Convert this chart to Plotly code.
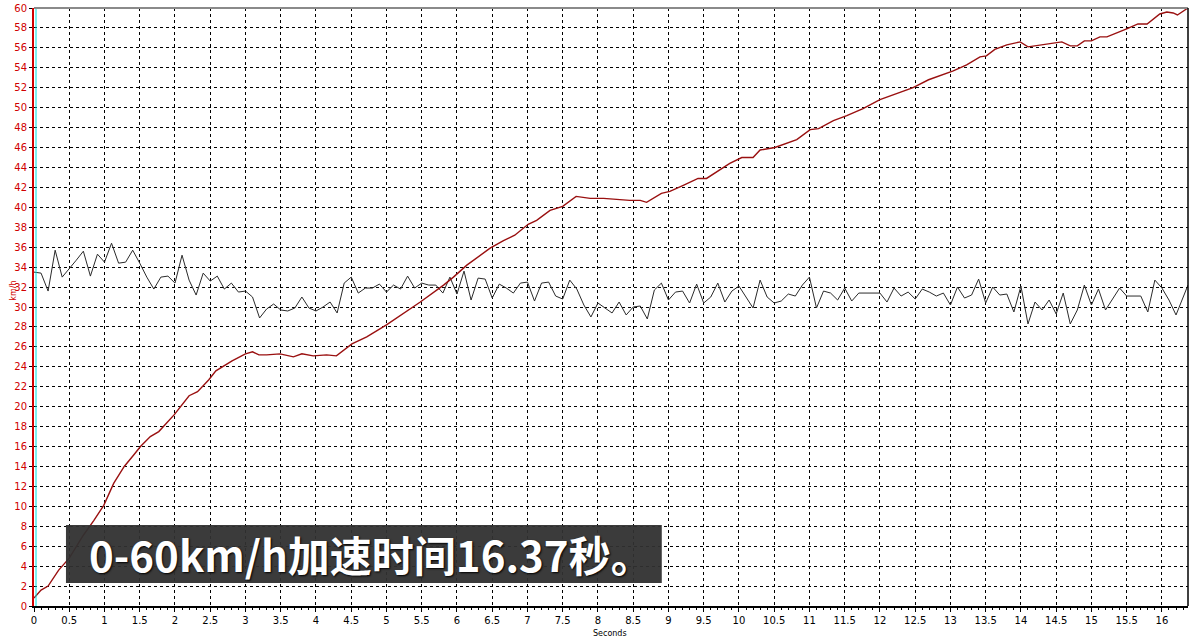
import plotly.graph_objects as go

# ---- data ----
speed_t = [0.0, 0.1, 0.2, 0.35, 0.5, 0.6, 0.7, 0.85, 0.99, 1.13, 1.28, 1.42, 1.51, 1.65, 1.77,
           1.99, 2.10, 2.20, 2.32, 2.48, 2.58, 2.81, 3.0, 3.10, 3.19, 3.30, 3.49, 3.68, 3.80,
           3.96, 4.15, 4.29, 4.51, 4.72, 5.00, 5.19, 5.48, 5.81, 5.95, 6.14, 6.33, 6.47, 6.66,
           6.82, 7.01, 7.13, 7.32, 7.50, 7.69, 7.89, 8.08, 8.27, 8.45, 8.60, 8.69, 8.90, 9.02,
           9.21, 9.42, 9.54, 9.71, 9.87, 10.04, 10.20, 10.30, 10.51, 10.82, 11.01, 11.13, 11.34,
           11.53, 11.76, 12.0, 12.24, 12.47, 12.69, 12.95, 13.04, 13.23, 13.42, 13.51, 13.63,
           13.80, 13.99, 14.1, 14.3, 14.48, 14.58, 14.7, 14.8, 14.9, 15.0, 15.12, 15.22, 15.5,
           15.66, 15.79, 15.97, 16.07, 16.16, 16.22, 16.37]
speed_kmh = [0.8, 1.6, 2.0, 3.6, 4.8, 6.0, 7.1, 8.6, 10.1, 12.3, 14.0, 15.2, 16.0, 17.0, 17.5,
             19.2, 20.2, 21.1, 21.5, 22.7, 23.6, 24.6, 25.3, 25.5, 25.2, 25.2, 25.3, 25.0, 25.3,
             25.1, 25.2, 25.1, 26.3, 27.0, 28.2, 29.1, 30.5, 32.2, 33.0, 34.2, 35.2, 35.9, 36.65,
             37.2, 38.3, 38.7, 39.7, 40.1, 41.1, 40.9, 40.9, 40.8, 40.7, 40.7, 40.5, 41.4, 41.6,
             42.2, 42.9, 42.9, 43.7, 44.4, 45.0, 45.0, 45.75, 46.0, 46.8, 47.8, 47.9, 48.7,
             49.2, 49.9, 50.8, 51.4, 52.0, 52.8, 53.5, 53.7, 54.3, 55.1, 55.2, 55.85,
             56.3, 56.6, 56.1, 56.3, 56.45, 56.6, 56.2, 56.2, 56.7, 56.7, 57.1, 57.1, 57.9,
             58.4, 58.4, 59.4, 59.6, 59.5, 59.3, 60.0]

second_t = [round(i * 0.1, 1) for i in range(164)] + [16.37]
second_val = [33.5, 33.4, 31.6, 35.7, 33.0, 33.8, 34.7, 35.6, 33.1, 35.3,
              34.5, 36.4, 34.4, 34.5, 35.7, 34.4, 33.0, 31.8, 33.0, 33.1,
              32.4, 35.2, 32.7, 31.2, 33.4, 32.6, 33.1, 31.8, 32.4, 31.5,
              31.6, 31.0, 28.9, 29.8, 30.3, 29.7, 29.6, 29.9, 31.0, 29.9,
              29.6, 30.0, 30.5, 29.4, 32.4, 33.0, 31.4, 31.9, 31.9, 32.3,
              31.5, 32.2, 31.8, 33.1, 31.9, 32.4, 32.2, 32.2, 31.4, 33.0,
              31.3, 33.6, 30.7, 32.9, 32.8, 30.9, 32.3, 31.9, 31.4, 32.4,
              32.5, 30.6, 32.4, 32.5, 31.1, 30.8, 32.7, 31.8, 30.2, 29.0,
              30.4, 29.9, 29.4, 30.5, 29.2, 30.0, 30.1, 28.8, 31.7, 32.4,
              30.7, 31.5, 31.6, 30.4, 32.3, 30.4, 31.0, 32.4, 30.5, 31.6,
              32.1, 31.0, 29.9, 32.7, 31.0, 30.4, 30.6, 31.3, 31.1, 32.2,
              33.0, 29.9, 31.6, 31.4, 30.7, 31.9, 30.6, 31.4, 31.4, 31.4,
              31.4, 30.5, 31.9, 31.1, 31.5, 30.8, 31.8, 31.5, 31.1, 31.4,
              30.2, 32.0, 30.9, 31.2, 32.8, 30.4, 32.0, 31.2, 31.3, 29.5,
              32.1, 28.3, 30.5, 29.7, 30.7, 29.3, 31.4, 28.3, 29.7, 32.2,
              30.2, 31.8, 29.7, 30.8, 31.9, 31.1, 31.1, 31.1, 29.5, 32.7,
              31.9, 30.7, 29.2, 31.0, 32.2]

x_tick_vals = [i * 0.5 for i in range(33)]
x_tick_text = ["0", "0.5", "1", "1.5", "2", "2.5", "3", "3.5", "4", "4.5", "5", "5.5", "6",
               "6.5", "7", "7.5", "8", "8.5", "9", "9.5", "10", "10.5", "11", "11.5", "12",
               "12.5", "13", "13.5", "14", "14.5", "15", "15.5", "16"]
y_tick_vals = list(range(0, 61, 2))

caption = "0-60km/h加速时间16.37秒。"

fig = go.Figure()
fig.add_trace(go.Scatter(x=second_t, y=second_val, mode="lines",
                         line=dict(color="#2b2b2b", width=1), hoverinfo="skip"))
fig.add_trace(go.Scatter(x=speed_t, y=speed_kmh, mode="lines",
                         line=dict(color="#9a1010", width=1.4), hoverinfo="skip"))

grid = dict(showgrid=True, gridcolor="black", gridwidth=1, griddash="3px,3px")

fig.update_layout(
    width=1200, height=640,
    margin=dict(l=34, r=12, t=8, b=34),
    paper_bgcolor="white", plot_bgcolor="white",
    showlegend=False,
    font=dict(family="DejaVu Sans", size=10, color="black"),
    xaxis=dict(range=[0, 16.37], tickvals=x_tick_vals, ticktext=x_tick_text,
               ticks="outside", ticklen=4, tickcolor="black",
               minor=dict(dtick=0.1, ticks="outside", ticklen=2, tickcolor="black", showgrid=False),
               showline=True, linecolor="black", linewidth=2,
               tickfont=dict(size=10, color="black"), zeroline=False, automargin=False, **grid),
    yaxis=dict(range=[0, 60], tickvals=y_tick_vals,
               ticks="outside", ticklen=3, tickcolor="black",
               showline=True, linecolor="#d00000", linewidth=2,
               tickfont=dict(size=10, color="#d00000"), zeroline=False, automargin=False, **grid),
    shapes=[
        dict(type="line", xref="x", yref="paper", xsizemode="pixel", xanchor=0,
             x0=2, x1=2, y0=0, y1=1, line=dict(color="#00e0e0", width=1)),
        dict(type="line", xref="paper", yref="paper", x0=0, x1=1, y0=1, y1=1,
             line=dict(color="#8a8a8a", width=2)),
        dict(type="line", xref="paper", yref="paper", x0=1, x1=1, y0=0, y1=1,
             line=dict(color="black", width=1.5)),
        dict(type="rect", xref="paper", yref="paper", x0=0.0277, x1=0.544,
             y0=0.0385, y1=0.1355, fillcolor="rgba(48,48,48,0.95)", line=dict(width=0),
             layer="above"),
    ],
    annotations=[
        dict(text="km/h", xref="paper", yref="paper", x=-0.0235, y=0.528, textangle=-90,
             showarrow=False, font=dict(size=8, color="#d00000")),
        dict(text="Seconds", xref="paper", yref="paper", x=0.499, y=-0.0465,
             yanchor="middle", showarrow=False, font=dict(size=8, color="black")),
        dict(text="<b>" + caption + "</b>", xref="paper", yref="paper", x=0.046, y=0.087,
             xanchor="left", yanchor="middle", showarrow=False,
             font=dict(family="Noto Sans CJK SC", size=42, color="white",
                       shadow="1px 1px 2px #000")),
    ],
)

fig.write_html("out.html", config={"displayModeBar": False},
               post_script="document.body.style.margin='0';document.body.style.padding='0';")
